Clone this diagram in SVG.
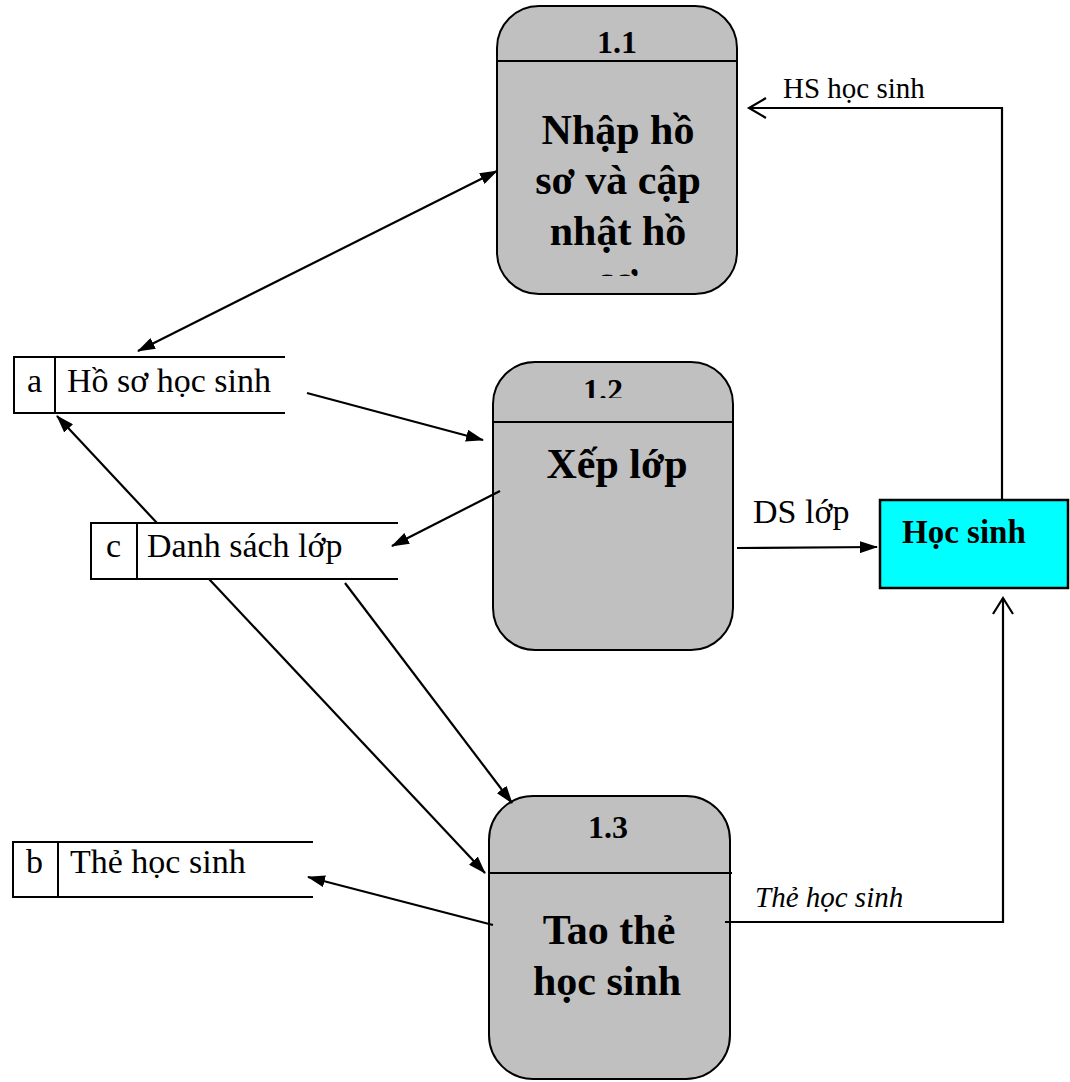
<svg xmlns="http://www.w3.org/2000/svg" width="1070" height="1082" viewBox="0 0 1070 1082">
  <style>
    .proc { fill: #C0C0C0; stroke: #000; stroke-width: 2; }
    .div { stroke: #000; stroke-width: 2; fill: none; }
    .store { fill: none; stroke: #000; stroke-width: 2; }
    .ext { fill: #00FFFF; stroke: #000; stroke-width: 2.5; }
    .flow { fill: none; stroke: #000; stroke-width: 2.2; }
    .num { font-family: "Liberation Serif", "Times New Roman", serif; font-weight: bold; font-size: 32px; text-anchor: middle; }
    .pname { font-family: "Liberation Serif", "Times New Roman", serif; font-weight: bold; font-size: 42px; text-anchor: middle; }
    .stxt { font-family: "Liberation Serif", "Times New Roman", serif; font-size: 34px; }
    .lbl { font-family: "Liberation Serif", "Times New Roman", serif; font-size: 29px; }
    .ename { font-family: "Liberation Serif", "Times New Roman", serif; font-weight: bold; font-size: 33px; }
  </style>
  <defs>
    <marker id="arr" markerUnits="userSpaceOnUse" viewBox="0 0 18 12" markerWidth="18" markerHeight="12" refX="17" refY="6" orient="auto-start-reverse">
      <path d="M0,0 L18,6 L0,12 z" fill="#000"/>
    </marker>
    <clipPath id="clip11">
      <rect x="497" y="0" width="240" height="276"/>
    </clipPath>
    <clipPath id="clip12">
      <rect x="493" y="362" width="240" height="36"/>
    </clipPath>
  </defs>

  <!-- process 1.1 -->
  <g id="p11">
    <rect class="proc" x="497" y="6" width="240" height="288" rx="42" ry="42"/>
    <line class="div" x1="496" y1="61" x2="737" y2="61"/>
    <text class="num" x="617" y="53">1.1</text>
    <g clip-path="url(#clip11)">
      <text class="pname" x="618" y="144">Nhập hồ</text>
      <text class="pname" x="618" y="194">sơ và cập</text>
      <text class="pname" x="618" y="245">nhật hồ</text>
      <text class="pname" x="618" y="294">sơ</text>
    </g>
  </g>

  <!-- process 1.2 -->
  <g id="p12">
    <rect class="proc" x="493" y="362" width="240" height="288" rx="42" ry="42"/>
    <line class="div" x1="493" y1="422" x2="733" y2="422"/>
    <g clip-path="url(#clip12)">
      <text class="num" x="603" y="401">1.2</text>
    </g>
    <text class="pname" x="617" y="478">Xếp lớp</text>
  </g>

  <!-- process 1.3 -->
  <g id="p13">
    <rect class="proc" x="489" y="796" width="241" height="283" rx="44" ry="44"/>
    <line class="div" x1="489" y1="873" x2="732" y2="873"/>
    <text class="num" x="608" y="838">1.3</text>
    <text class="pname" x="609" y="944">Tao thẻ</text>
    <text class="pname" x="607" y="995">học sinh</text>
  </g>

  <!-- data store a -->
  <g id="store-a">
    <path class="store" d="M285,357 H14 V413 H285 M55,357 V413"/>
    <text class="stxt" x="27" y="392">a</text>
    <text class="stxt" x="67" y="392">Hồ sơ học sinh</text>
  </g>

  <!-- data store c -->
  <g id="store-c">
    <path class="store" d="M398,523 H91 V579 H398 M137,523 V579"/>
    <text class="stxt" x="106" y="557">c</text>
    <text class="stxt" x="147" y="557">Danh sách lớp</text>
  </g>

  <!-- data store b -->
  <g id="store-b">
    <path class="store" d="M313,842 H13 V897 H313 M58,842 V897"/>
    <text class="stxt" x="26" y="873">b</text>
    <text class="stxt" x="70" y="873">Thẻ học sinh</text>
  </g>

  <!-- external entity -->
  <g id="hoc-sinh">
    <rect class="ext" x="880" y="500" width="188" height="88"/>
    <text class="ename" x="902" y="543">Học sinh</text>
  </g>

  <!-- data flows -->
  <g id="connectors">
    <line class="flow" x1="138" y1="351" x2="497" y2="171" marker-start="url(#arr)" marker-end="url(#arr)"/>
    <line class="flow" x1="307" y1="393" x2="483" y2="440" marker-end="url(#arr)"/>
    <line class="flow" x1="500" y1="491" x2="392" y2="546" marker-end="url(#arr)"/>
    <line class="flow" x1="157" y1="523" x2="57" y2="416" marker-end="url(#arr)"/>
    <line class="flow" x1="209" y1="579" x2="485" y2="873" marker-end="url(#arr)"/>
    <line class="flow" x1="345" y1="583" x2="512" y2="803" marker-end="url(#arr)"/>
    <line class="flow" x1="493" y1="925" x2="308" y2="877" marker-end="url(#arr)"/>
    <line class="flow" x1="737" y1="548" x2="877" y2="547" marker-end="url(#arr)"/>
    <path class="flow" d="M1002,500 V108 H749"/>
    <path class="flow" d="M766,98 L749,108 L766,118"/>
    <path class="flow" d="M725,922 H1003 V598"/>
    <path class="flow" d="M993,614 L1003,598 L1013,614"/>
    <text class="lbl" x="783" y="98">HS học sinh</text>
    <text class="stxt" x="753" y="523">DS lớp</text>
    <text class="lbl" x="755" y="907" font-style="italic">Thẻ học sinh</text>
  </g>
</svg>
